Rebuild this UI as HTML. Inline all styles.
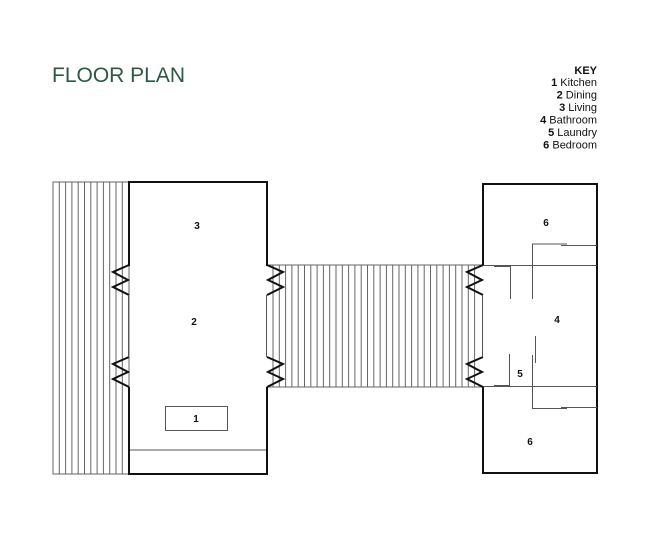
<!DOCTYPE html>
<html><head><meta charset="utf-8"><style>
html,body{margin:0;padding:0;background:#fff;width:650px;height:542px;overflow:hidden}
svg{display:block}
</style></head><body>
<svg width="650" height="542" viewBox="0 0 650 542" xmlns="http://www.w3.org/2000/svg" font-family="Liberation Sans, sans-serif">
<text x="52" y="82" font-size="21" fill="#2a5a45">FLOOR PLAN</text>
<g font-size="11" fill="#111" text-anchor="end">
<text x="597" y="74" font-weight="bold">KEY</text>
<text x="597" y="86"><tspan font-weight="bold">1</tspan> Kitchen</text>
<text x="597" y="98.5"><tspan font-weight="bold">2</tspan> Dining</text>
<text x="597" y="111"><tspan font-weight="bold">3</tspan> Living</text>
<text x="597" y="123.5"><tspan font-weight="bold">4</tspan> Bathroom</text>
<text x="597" y="136"><tspan font-weight="bold">5</tspan> Laundry</text>
<text x="597" y="148.5"><tspan font-weight="bold">6</tspan> Bedroom</text>
</g>
<!-- left deck -->
<g stroke="#666" stroke-width="1" fill="none">
<rect x="53" y="182" width="76" height="292"/>
<g id="ld"></g>
</g>
<g stroke="#666" stroke-width="1">
<line x1="59.3" y1="182" x2="59.3" y2="474"/><line x1="65.6" y1="182" x2="65.6" y2="474"/><line x1="71.9" y1="182" x2="71.9" y2="474"/><line x1="78.2" y1="182" x2="78.2" y2="474"/><line x1="84.5" y1="182" x2="84.5" y2="474"/><line x1="90.8" y1="182" x2="90.8" y2="474"/><line x1="97.1" y1="182" x2="97.1" y2="474"/><line x1="103.4" y1="182" x2="103.4" y2="474"/><line x1="109.7" y1="182" x2="109.7" y2="474"/><line x1="116" y1="182" x2="116" y2="474"/><line x1="122.3" y1="182" x2="122.3" y2="474"/>
</g>
<!-- bridge -->
<g stroke="#666" stroke-width="1">
<line x1="267" y1="265" x2="484" y2="265"/><line x1="267" y1="387" x2="484" y2="387"/>
<line x1="273" y1="265" x2="273" y2="387"/><line x1="279.3" y1="265" x2="279.3" y2="387"/><line x1="285.6" y1="265" x2="285.6" y2="387"/><line x1="291.9" y1="265" x2="291.9" y2="387"/><line x1="298.2" y1="265" x2="298.2" y2="387"/><line x1="304.5" y1="265" x2="304.5" y2="387"/><line x1="310.8" y1="265" x2="310.8" y2="387"/><line x1="317.1" y1="265" x2="317.1" y2="387"/><line x1="323.4" y1="265" x2="323.4" y2="387"/><line x1="329.7" y1="265" x2="329.7" y2="387"/><line x1="336" y1="265" x2="336" y2="387"/><line x1="342.3" y1="265" x2="342.3" y2="387"/><line x1="348.6" y1="265" x2="348.6" y2="387"/><line x1="354.9" y1="265" x2="354.9" y2="387"/><line x1="361.2" y1="265" x2="361.2" y2="387"/><line x1="367.5" y1="265" x2="367.5" y2="387"/><line x1="373.8" y1="265" x2="373.8" y2="387"/><line x1="380.1" y1="265" x2="380.1" y2="387"/><line x1="386.4" y1="265" x2="386.4" y2="387"/><line x1="392.7" y1="265" x2="392.7" y2="387"/><line x1="399" y1="265" x2="399" y2="387"/><line x1="405.3" y1="265" x2="405.3" y2="387"/><line x1="411.6" y1="265" x2="411.6" y2="387"/><line x1="417.9" y1="265" x2="417.9" y2="387"/><line x1="424.2" y1="265" x2="424.2" y2="387"/><line x1="430.5" y1="265" x2="430.5" y2="387"/><line x1="436.8" y1="265" x2="436.8" y2="387"/><line x1="443.1" y1="265" x2="443.1" y2="387"/><line x1="449.4" y1="265" x2="449.4" y2="387"/><line x1="455.7" y1="265" x2="455.7" y2="387"/><line x1="462" y1="265" x2="462" y2="387"/><line x1="468.3" y1="265" x2="468.3" y2="387"/><line x1="474.6" y1="265" x2="474.6" y2="387"/>
</g>
<!-- main building -->
<rect x="129" y="182" width="138" height="292" fill="none" stroke="#111" stroke-width="0"/>
<g fill="none" stroke="#111" stroke-width="2">
<polyline points="129,266 129,182 267,182 267,266"/>
<polyline points="129,387 129,474 267,474 267,387"/>
<polyline points="129,265 113,272 128,280 113,287 129,295"/>
<polyline points="129,357 113,364 128,372 113,379 129,387"/>
<polyline points="267,265 283,272 268,280 283,287 267,295"/>
<polyline points="267,357 283,364 268,372 283,379 267,387"/>
</g>
<g stroke="#555" stroke-width="1" fill="none">
<line x1="128.5" y1="295" x2="128.5" y2="357"/>
<line x1="266.5" y1="295" x2="266.5" y2="357"/>
<line x1="130" y1="450" x2="266" y2="450"/>
<rect x="165.5" y="406.5" width="62" height="24"/>
</g>
<!-- right building -->
<g fill="none" stroke="#111" stroke-width="2">
<polyline points="483,265 483,184 597,184 597,473 483,473 483,387"/>
<polyline points="483,265 467,272 482,280 467,287 483,295"/>
<polyline points="483,357 467,364 482,372 467,379 483,387"/>
</g>
<g stroke="#555" stroke-width="1" fill="none">
<line x1="482.5" y1="295" x2="482.5" y2="357"/>
<line x1="483" y1="265.5" x2="597" y2="265.5"/>
<line x1="483" y1="386.5" x2="597" y2="386.5"/>
<polyline points="532.5,299 532.5,244 567,244"/>
<line x1="561" y1="245.5" x2="597" y2="245.5"/>
<line x1="510.5" y1="265" x2="510.5" y2="299"/>
<line x1="494" y1="266.5" x2="510" y2="266.5"/>
<line x1="535.5" y1="336" x2="535.5" y2="363"/>
<polyline points="532.5,355 532.5,408.5 567,408.5"/>
<line x1="561" y1="407.5" x2="597" y2="407.5"/>
<line x1="509.5" y1="354" x2="509.5" y2="387"/>
<line x1="494" y1="385.5" x2="509" y2="385.5"/>
</g>
<g font-size="10" font-weight="bold" fill="#111" text-anchor="middle">
<text x="197" y="229">3</text>
<text x="194" y="325">2</text>
<text x="196" y="422">1</text>
<text x="546" y="226">6</text>
<text x="557" y="323">4</text>
<text x="520" y="377">5</text>
<text x="530" y="445">6</text>
</g>
</svg>
</body></html>
